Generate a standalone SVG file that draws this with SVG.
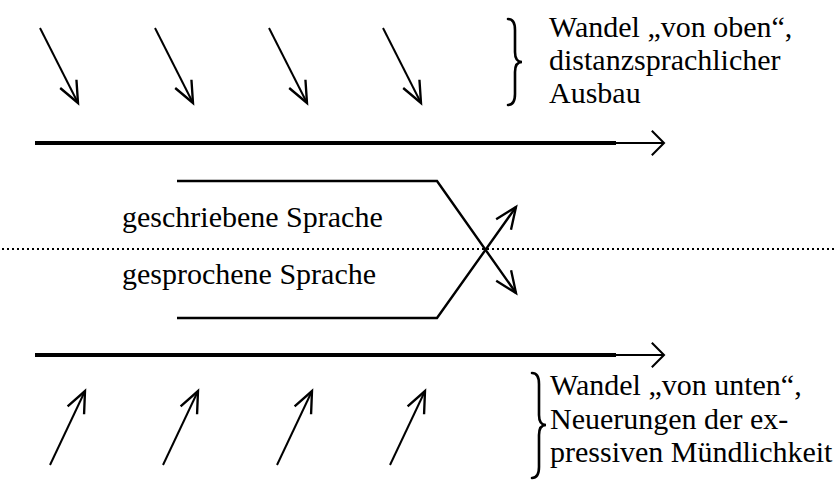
<svg xmlns="http://www.w3.org/2000/svg" width="835" height="492" viewBox="0 0 835 492">
  <style>
    .lbl { font-family: "Liberation Serif", "Times New Roman", serif; font-size: 30px; fill: #000; }
    .ln { stroke: #000; fill: none; stroke-linecap: butt; }
    .thin { stroke-width: 2; }
    .brace { stroke: #000; stroke-width: 2.6; fill: none; stroke-linecap: round; }
  </style>
  <defs>
    <marker id="vhead" markerUnits="userSpaceOnUse" markerWidth="30" markerHeight="30" refX="0" refY="0" viewBox="-24 -12 28 24" orient="auto" overflow="visible">
      <path d="M -20 -8.5 L 0 0 L -20 8.5" fill="none" stroke="#000" stroke-width="2.2"/>
    </marker>
    <marker id="bighead" markerUnits="userSpaceOnUse" markerWidth="30" markerHeight="30" refX="0" refY="0" viewBox="-20 -16 24 32" orient="auto" overflow="visible">
      <path d="M -13 -13 L 0 0 L -13 13" fill="none" stroke="#000" stroke-width="2.2"/>
    </marker>
  </defs>

  <rect width="835" height="492" fill="#fff"/>

  <!-- Änderungen von oben -->
  <g id="top-arrows">
    <line class="ln thin" x1="40" y1="28" x2="78" y2="103" marker-end="url(#vhead)"/>
    <line class="ln thin" x1="155" y1="28" x2="193" y2="103" marker-end="url(#vhead)"/>
    <line class="ln thin" x1="269" y1="28" x2="307" y2="103" marker-end="url(#vhead)"/>
    <line class="ln thin" x1="383" y1="28" x2="421" y2="103" marker-end="url(#vhead)"/>
  </g>

  <g id="top-label">
    <path class="brace" d="M 508 19 Q 515 19 515 30 L 515 52 Q 515 62 522 62 Q 515 62 515 72 L 515 94 Q 515 105 508 105"/>
    <text class="lbl" x="549" y="37">Wandel „von oben“,</text>
    <text class="lbl" x="549" y="70">distanzsprachlicher</text>
    <text class="lbl" x="549" y="103">Ausbau</text>
  </g>

  <!-- Zeitachsen -->
  <g id="axis-top">
    <line class="ln" stroke-width="4" x1="35" y1="143" x2="616" y2="143"/>
    <line class="ln thin" x1="614" y1="143" x2="664" y2="143" marker-end="url(#bighead)"/>
  </g>
  <g id="axis-bottom">
    <line class="ln" stroke-width="4" x1="35" y1="355" x2="616" y2="355"/>
    <line class="ln thin" x1="614" y1="355" x2="664" y2="355" marker-end="url(#bighead)"/>
  </g>

  <!-- Trennlinie zwischen Schrift und Sprechen -->
  <line id="divider" x1="2" y1="249" x2="835" y2="249" stroke="#000" stroke-width="2" stroke-dasharray="2 3"/>

  <g id="written">
    <text class="lbl" x="122" y="227">geschriebene Sprache</text>
  </g>
  <g id="spoken">
    <text class="lbl" x="122" y="284">gesprochene Sprache</text>
  </g>

  <g id="connectors">
    <path class="ln" stroke-width="2.4" d="M 177 181 L 437 181 L 516 293" marker-end="url(#vhead)"/>
    <path class="ln" stroke-width="2.4" d="M 177 318 L 437 318 L 516 207" marker-end="url(#vhead)"/>
  </g>

  <!-- Änderungen von unten -->
  <g id="bottom-arrows">
    <line class="ln thin" x1="50" y1="465" x2="85" y2="391" marker-end="url(#vhead)"/>
    <line class="ln thin" x1="163" y1="465" x2="198" y2="391" marker-end="url(#vhead)"/>
    <line class="ln thin" x1="277" y1="465" x2="312" y2="391" marker-end="url(#vhead)"/>
    <line class="ln thin" x1="390" y1="465" x2="425" y2="391" marker-end="url(#vhead)"/>
  </g>

  <g id="bottom-label">
    <path class="brace" d="M 532 373 Q 539 373 539 384 L 539 415 Q 539 425 546 425 Q 539 425 539 435 L 539 467 Q 539 478 532 478"/>
    <text class="lbl" x="550" y="395">Wandel „von unten“,</text>
    <text class="lbl" x="550" y="429">Neuerungen der ex-</text>
    <text class="lbl" x="550" y="462">pressiven Mündlichkeit</text>
  </g>
</svg>
